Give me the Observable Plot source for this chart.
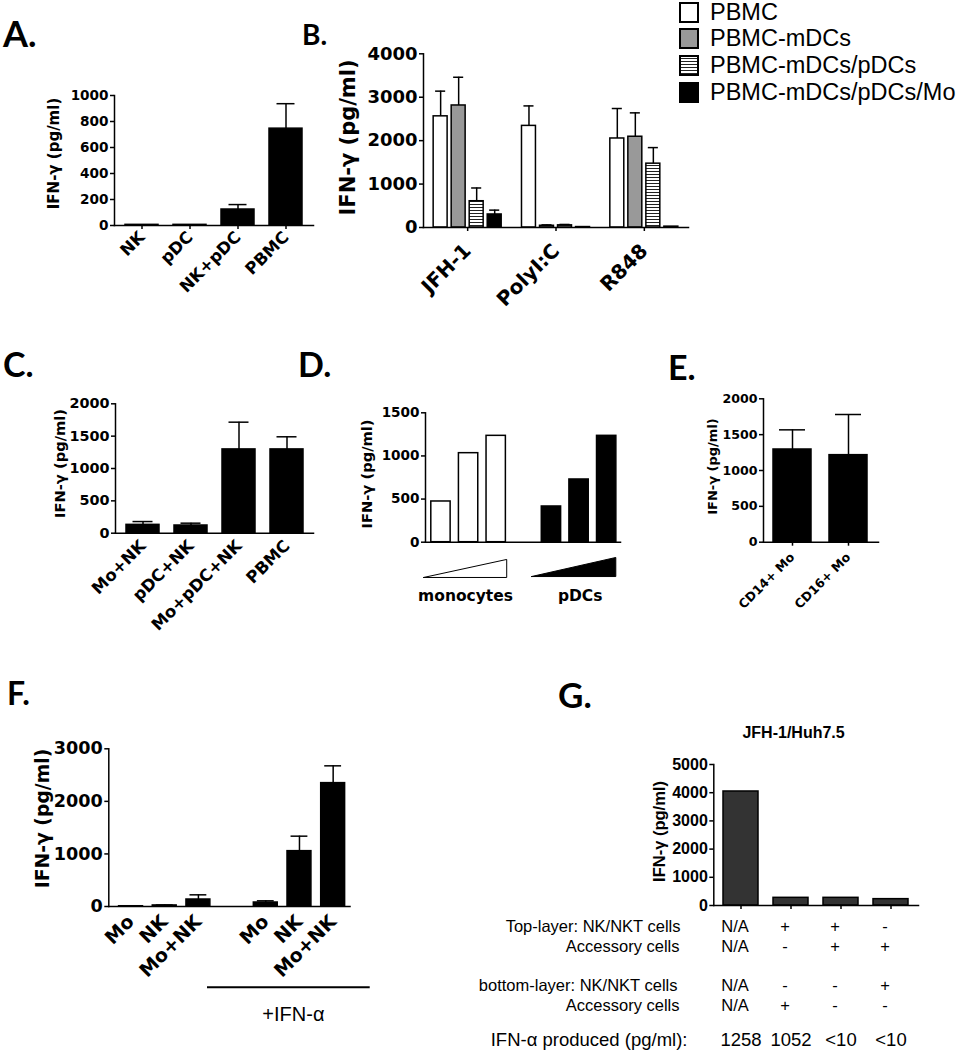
<!DOCTYPE html>
<html><head><meta charset="utf-8">
<script src="https://cdn.jsdelivr.net/npm/d3@7"></script>
<script src="https://cdn.jsdelivr.net/npm/@observablehq/plot@0.6"></script>
<style>
body{margin:0;background:#fff;}
#fig{position:relative;width:962px;height:1050px;background:#fff;overflow:hidden;}
.panel{position:absolute;}
.letter{position:absolute;font-family:Lato,'Open Sans',sans-serif;font-weight:700;line-height:1;color:#000;white-space:nowrap;}
.lrow{position:absolute;left:679px;height:21px;line-height:21px;display:flex;align-items:center;font-family:'Liberation Sans',Arial,sans-serif;font-size:23.5px;color:#000;white-space:nowrap;}
.lrow span{line-height:21px;}
.sw{box-sizing:border-box;width:20px;height:21px;border:2px solid #000;margin-right:11px;}
</style></head><body><div id="fig"></div>
<script>
// ---------------- data ----------------
const aCategories = ["NK", "pDC", "NK+pDC", "PBMC"];
const aValues = [5, 5, 123, 745];
const aErrors = [0, 0, 38, 192];

const bGroups = ["JFH-1", "PolyI:C", "R848"];
const bSeries = ["PBMC", "PBMC-mDCs", "PBMC-mDCs/pDCs", "PBMC-mDCs/pDCs/Mo"];
const bValues = [[2560, 2810, 605, 300], [2340, 40, 50, 10], [2050, 2090, 1470, 20]];
const bErrors = [[580, 650, 305, 100], [460, 20, 20, 0], [690, 550, 370, 0]];

const cCategories = ["Mo+NK", "pDC+NK", "Mo+pDC+NK", "PBMC"];
const cValues = [129, 119, 1295, 1295];
const cErrors = [51, 36, 421, 195];

const dGroups = ["monocytes", "pDCs"];
const dMonocytes = [472, 1032, 1233];
const dPDCs = [414, 727, 1233];

const eCategories = ["CD14+ Mo", "CD16+ Mo"];
const eValues = [1293, 1214];
const eErrors = [274, 567];

const fCategories = ["Mo", "NK", "Mo+NK"];
const fControl = [5, 20, 133];
const fControlErr = [0, 8, 89];
const fIFNa = [76, 1053, 2347];
const fIFNaErr = [32, 285, 329];
const fTreatment = "+IFN-α";

const gTitle = "JFH-1/Huh7.5";
const gColumns = ["c1", "c2", "c3", "c4"];
const gValues = [4043, 272, 272, 225];
const gRowLabels = ["Top-layer: NK/NKT cells", "Accessory cells", "bottom-layer: NK/NKT cells", "Accessory cells", "IFN-α produced (pg/ml):"];
const gTopNK = ["N/A", "+", "+", "-"];
const gTopAcc = ["N/A", "-", "+", "+"];
const gBottomNK = ["N/A", "-", "-", "+"];
const gBottomAcc = ["N/A", "+", "-", "-"];
const gIFNaProduced = ["1258", "1052", "<10", "<10"];

const yTitle = "IFN-γ (pg/ml)";

// ---------------- helpers ----------------
const fig = document.getElementById("fig");
const BOLD = "DejaVu Sans";
const SANS = "Liberation Sans";

function make(box, frame, opts, marks, family) {
  const svg = Plot.plot({
    width: box.width, height: box.height,
    marginLeft: frame.x0 - box.left, marginRight: box.left + box.width - frame.x1,
    marginTop: frame.yTop - box.top, marginBottom: box.top + box.height - frame.yBottom,
    ...opts,
    style: {fontFamily: family || BOLD, fontWeight: "bold", color: "#000", background: "transparent", overflow: "visible", maxWidth: "none"},
    marks
  });
  const div = document.createElement("div");
  div.className = "panel";
  Object.assign(div.style, {left: box.left + "px", top: box.top + "px", width: box.width + "px", height: box.height + "px"});
  div.appendChild(svg);
  fig.appendChild(div);
  return svg;
}
function yLabel(frame, cx, cy, fontSize) {
  return Plot.text([yTitle], {text: d => d, frameAnchor: "left", rotate: -90,
    dx: cx - frame.x0, dy: cy - (frame.yTop + frame.yBottom) / 2,
    fontSize, fontWeight: "bold", textAnchor: "middle", lineAnchor: "middle"});
}
function axesLines() {
  return [Plot.frame({anchor: "left", strokeWidth: 1.5}), Plot.frame({anchor: "bottom", strokeWidth: 1.5})];
}
function yAxis(ticks, fontSize) {
  return Plot.axisY({ticks, tickFormat: d => String(d), tickSize: 4, tickPadding: 2, fontSize, strokeWidth: 1.5, label: null});
}
function letter(t, left, baseline, size) {
  const d = document.createElement("div");
  d.className = "letter";
  d.textContent = t;
  d.style.fontSize = size + "px";
  d.style.left = left + "px";
  d.style.top = (baseline - 0.887 * size) + "px";
  fig.appendChild(d);
}
function bandPanel(c) {
  const rows = c.cats.map((cat, i) => ({cat, value: c.values[i], err: c.errors ? c.errors[i] : 0}));
  const withErr = rows.filter(d => d.err > 0);
  const marks = [
    Plot.barY(rows, {x: "cat", y1: 0, y2: "value", fill: c.fill || "#000", stroke: "#000", strokeWidth: 1.5}),
    Plot.ruleX(withErr, {x: "cat", y1: "value", y2: d => d.value + d.err, strokeWidth: 1.5}),
    Plot.tickY(withErr, {x: "cat", y: d => d.value + d.err, insetLeft: c.capInset, insetRight: c.capInset, strokeWidth: 1.5}),
    ...axesLines(),
    yAxis(c.yTicks, c.tickFont),
    Plot.axisX({tickSize: c.xTickSize, tickPadding: c.xPad ?? 2, tickRotate: c.xRotate ?? -45, fontSize: c.xFont, strokeWidth: 1.5, label: null, tickFormat: c.xFormat}),
    yLabel(c.frame, c.ylx, c.yly, c.yFont),
    ...(c.extra || [])
  ];
  return make(c.box, c.frame, {
    x: {type: "band", domain: c.cats, paddingInner: c.pi, paddingOuter: c.po},
    y: {domain: [0, c.yMax]}
  }, marks, c.family);
}

// ---------------- A ----------------
bandPanel({
  box: {left: 0, top: 80, width: 330, height: 230},
  frame: {x0: 114, x1: 313, yTop: 95, yBottom: 225},
  cats: aCategories, values: aValues, errors: aErrors,
  yMax: 1000, yTicks: [0, 200, 400, 600, 800, 1000], tickFont: 13.6,
  pi: 0.32, po: 0.2, capInset: 7.5, xTickSize: 4, xPad: 5, xFont: 16.5,
  ylx: 54, yly: 153, yFont: 15
});
letter("A.", 3, 47, 36);

// ---------------- B ----------------
{
  const box = {left: 330, top: 45, width: 360, height: 290};
  const frame = {x0: 423, x1: 688, yTop: 53.3, yBottom: 227};
  const step = 0.204, half = 0.079, cap = 0.057;
  const rows = bGroups.flatMap((g, gi) => bSeries.map((s, si) => ({
    group: g, series: s, value: bValues[gi][si], err: bErrors[gi][si],
    cx: gi + 0.5 + (si - 1.5) * step
  })));
  const fills = ["#fff", "#999", "url(#hatchB)", "#000"];
  const withErr = rows.filter(d => d.err > 0);
  const svg = make(box, frame, {
    x: {type: "linear", domain: [0, 3]},
    y: {domain: [0, 4000]}
  }, [
    ...bSeries.map((s, si) => Plot.rectY(rows.filter(d => d.series === s), {
      x1: d => d.cx - half, x2: d => d.cx + half, y1: 0, y2: "value",
      fill: fills[si], stroke: "#000", strokeWidth: 1.5})),
    Plot.ruleX(withErr, {x: "cx", y1: "value", y2: d => d.value + d.err, strokeWidth: 1.5}),
    Plot.ruleY(withErr, {y: d => d.value + d.err, x1: d => d.cx - cap, x2: d => d.cx + cap, strokeWidth: 1.5}),
    ...axesLines(),
    yAxis([0, 1000, 2000, 3000, 4000], 18),
    Plot.axisX({ticks: [0.5, 1.5, 2.5], tickFormat: t => bGroups[Math.floor(t)], tickSize: 4, tickPadding: 16,
      tickRotate: -45, fontSize: 20, strokeWidth: 1.5, label: null}),
    yLabel(frame, 348, 137, 21)
  ]);
  const defs = d3.select(svg).insert("defs", ":first-child");
  const pat = defs.append("pattern").attr("id", "hatchB").attr("patternUnits", "userSpaceOnUse")
    .attr("width", 6).attr("height", 3);
  pat.append("rect").attr("width", 6).attr("height", 3).attr("fill", "#fff");
  pat.append("rect").attr("width", 6).attr("height", 1).attr("fill", "#222");
  // legend
  const swFills = ["#fff", "#999", "repeating-linear-gradient(to bottom,#fff 0 1px,#222 1px 2px,#fff 2px 3px)", "#000"];
  bSeries.forEach((s, i) => {
    const row = document.createElement("div");
    row.className = "lrow";
    row.style.top = (1.7 + 26.7 * i) + "px";
    const sw = document.createElement("div");
    sw.className = "sw";
    sw.style.background = swFills[i];
    const tx = document.createElement("span");
    tx.textContent = s;
    row.appendChild(sw); row.appendChild(tx);
    fig.appendChild(row);
  });
}
letter("B.", 302, 45, 28);

// ---------------- C ----------------
bandPanel({
  box: {left: 0, top: 390, width: 330, height: 240},
  frame: {x0: 115, x1: 313, yTop: 403.3, yBottom: 532.7},
  cats: cCategories, values: cValues, errors: cErrors,
  yMax: 2000, yTicks: [0, 500, 1000, 1500, 2000], tickFont: 14.4,
  pi: 0.32, po: 0.2, capInset: 6.5, xTickSize: 0, xPad: 10, xFont: 16.5,
  ylx: 60, yly: 463, yFont: 14.7
});
letter("C.", 3, 377, 34);

// ---------------- D ----------------
{
  const box = {left: 330, top: 390, width: 300, height: 220};
  const frame = {x0: 425, x1: 620, yTop: 412.3, yBottom: 541.7};
  const rows = [
    ...dMonocytes.map((v, i) => ({group: dGroups[0], slot: i, value: v})),
    ...dPDCs.map((v, i) => ({group: dGroups[1], slot: i + 4, value: v}))
  ];
  const rampWhite = [{x: -0.13, y: -409}, {x: 2.88, y: -200}, {x: 2.88, y: -409}, {x: -0.13, y: -409}];
  const rampBlack = [{x: 3.78, y: -398}, {x: 6.83, y: -177}, {x: 6.83, y: -398}, {x: 3.78, y: -398}];
  make(box, frame, {
    x: {type: "linear", domain: [-0.06, 7], axis: null},
    y: {domain: [0, 1500]}
  }, [
    Plot.rectY(rows, {x1: d => d.slot + 0.15, x2: d => d.slot + 0.85, y1: 0, y2: "value",
      fill: d => d.group === dGroups[0] ? "#fff" : "#000", stroke: "#000", strokeWidth: 1.5}),
    ...axesLines(),
    yAxis([0, 500, 1000, 1500], 13.6),
    yLabel(frame, 367, 473.5, 14.7),
    Plot.line(rampWhite, {x: "x", y: "y", fill: "#fff", stroke: "#000", strokeWidth: 1}),
    Plot.line(rampBlack, {x: "x", y: "y", fill: "#000", stroke: "#000", strokeWidth: 1}),
    Plot.text([{x: 1.39, t: dGroups[0]}, {x: 5.54, t: dGroups[1]}], {x: "x", text: "t", frameAnchor: "bottom",
      dy: 58.3, lineAnchor: "bottom", textAnchor: "middle", fontSize: 15.5, fontWeight: "bold"})
  ]);
}
letter("D.", 298, 377, 34);

// ---------------- E ----------------
bandPanel({
  box: {left: 640, top: 380, width: 250, height: 240},
  frame: {x0: 763, x1: 878, yTop: 398.3, yBottom: 541.7},
  cats: eCategories, values: eValues, errors: eErrors,
  yMax: 2000, yTicks: [0, 500, 1000, 1500, 2000], tickFont: 12.6,
  pi: 0.316, po: 0.167, capInset: 6, xTickSize: 4, xPad: 9, xFont: 12.5,
  ylx: 712, yly: 466, yFont: 13
});
letter("E.", 668, 380, 34);

// ---------------- F ----------------
{
  const box = {left: 0, top: 730, width: 400, height: 320};
  const frame = {x0: 108.3, x1: 349.5, yTop: 748.3, yBottom: 906};
  const rows = [
    ...fCategories.map((c, i) => ({cat: c, slot: i, value: fControl[i], err: fControlErr[i]})),
    ...fCategories.map((c, i) => ({cat: c, slot: i + 4, value: fIFNa[i], err: fIFNaErr[i]}))
  ];
  const withErr = rows.filter(d => d.err > 0);
  const cap = 0.25;
  make(box, frame, {
    x: {type: "linear", domain: [-0.16, 7]},
    y: {domain: [0, 3000]}
  }, [
    Plot.rectY(rows, {x1: d => d.slot + 0.145, x2: d => d.slot + 0.855, y1: 0, y2: "value",
      fill: "#000", stroke: "#000", strokeWidth: 1.5}),
    Plot.ruleX(withErr, {x: d => d.slot + 0.5, y1: "value", y2: d => d.value + d.err, strokeWidth: 1.5}),
    Plot.ruleY(withErr, {y: d => d.value + d.err, x1: d => d.slot + 0.5 - cap, x2: d => d.slot + 0.5 + cap, strokeWidth: 1.5}),
    ...axesLines(),
    yAxis([0, 1000, 2000, 3000], 17.6),
    Plot.axisX({ticks: rows.map(d => d.slot + 0.5), tickFormat: t => rows.find(d => d.slot + 0.5 === t).cat,
      tickSize: 0, tickPadding: 12, tickRotate: -45, fontSize: 19, label: null}),
    yLabel(frame, 42, 818, 18.8),
    Plot.ruleY([0], {x1: 2.77, x2: 7.6, dy: 80.7, strokeWidth: 2}),
    Plot.text([{x: 5.32, t: fTreatment}], {x: "x", text: "t", frameAnchor: "bottom", dy: 114,
      lineAnchor: "bottom", textAnchor: "middle", fontFamily: SANS, fontWeight: "normal", fontSize: 20})
  ]);
}
letter("F.", 7, 705, 32);

// ---------------- G ----------------
{
  const frame = {x0: 713.3, x1: 918, yTop: 764, yBottom: 905};
  const rowsData = [gTopNK, gTopAcc, gBottomNK, gBottomAcc, gIFNaProduced];
  const rowDy = [26.7, 46.7, 85, 105, 140];
  const labelDx = [-33.3, -34.3, -36.3, -34.3, -26.3];
  const valDx = [-6, -6, -6, -6, 0];
  const rowFont = [16.5, 16.5, 16.5, 16.5, 18.5];
  const tableMarks = rowsData.flatMap((vals, r) => [
    Plot.text(gColumns.map((col, i) => ({col, t: vals[i]})), {x: "col", text: "t", frameAnchor: "bottom",
      dx: valDx[r], dy: rowDy[r], lineAnchor: "bottom", textAnchor: "middle", fontWeight: "normal", fontSize: rowFont[r]}),
    Plot.text([gRowLabels[r]], {text: d => d, frameAnchor: "bottom-left", dx: labelDx[r], dy: rowDy[r],
      lineAnchor: "bottom", textAnchor: "end", fontWeight: "normal", fontSize: rowFont[r]})
  ]);
  bandPanel({
    box: {left: 440, top: 700, width: 522, height: 350},
    frame,
    cats: gColumns, values: gValues, errors: null, fill: "#333",
    yMax: 5000, yTicks: [0, 1000, 2000, 3000, 4000, 5000], tickFont: 16,
    pi: 0.307, po: 0.18, capInset: 0, xTickSize: 4, xRotate: 0, xFont: 1, xFormat: () => "",
    ylx: 659, yly: 831, yFont: 16.5, family: SANS,
    extra: [
      Plot.text([gTitle], {text: d => d, frameAnchor: "top", dx: -22.6, dy: -27, lineAnchor: "bottom",
        textAnchor: "middle", fontSize: 16, fontWeight: "bold"}),
      ...tableMarks
    ]
  });
}
letter("G.", 558, 708, 35);
</script>
</body></html>
